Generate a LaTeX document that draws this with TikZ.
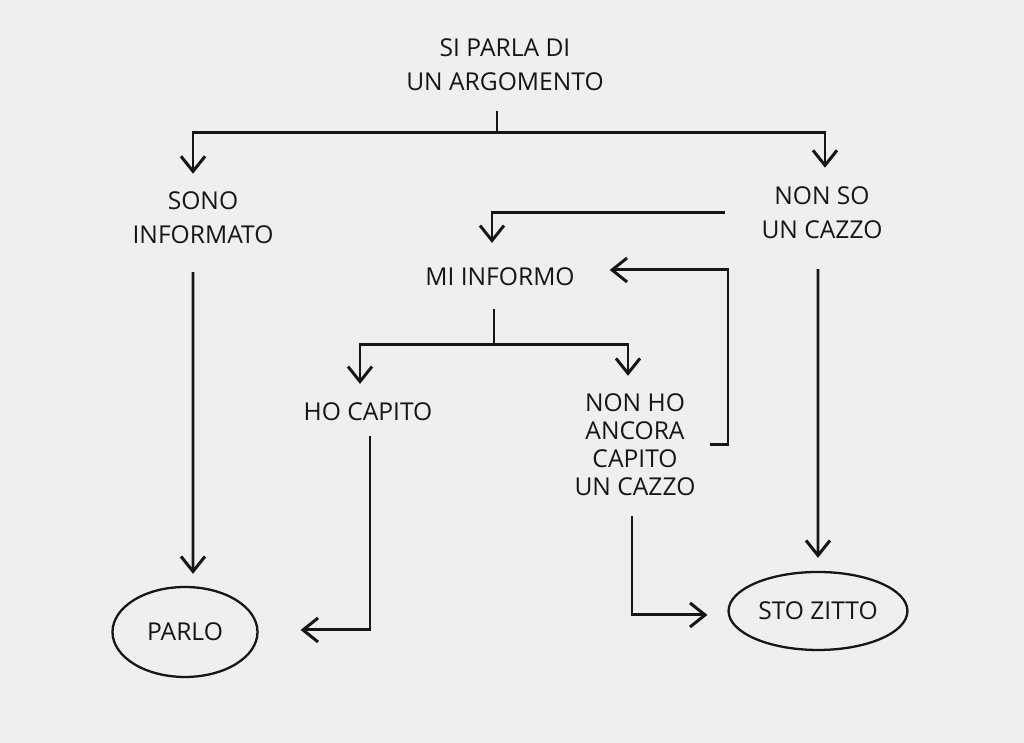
\documentclass[tikz,border=0pt]{standalone}
\usepackage{fontspec}
\setmainfont{Open Sans}
\usetikzlibrary{arrows.meta,positioning,shapes.geometric}
\definecolor{paper}{RGB}{239,239,239}
\definecolor{ink}{RGB}{22,22,22}

\begin{document}
\begin{tikzpicture}[color=ink,line width=0.85pt,
  txt/.style={align=center,inner sep=1pt,font=\fontsize{7}{9.8}\selectfont},
  arr/.style={-{Straight Barb[length=1.5mm,width=2.4mm]}},
  oval/.style={ellipse,draw,line width=0.65pt,inner sep=0pt}]
\fill[paper] (0,0) rectangle (10.24,7.43);
\useasboundingbox (0,0) rectangle (10.24,7.43);

% the questions and answers
\node[txt] (root) at (5.05,6.78) {SI PARLA DI\\UN ARGOMENTO};
\node[txt] (sono) at (2.03,5.25) {SONO\\INFORMATO};
\node[txt] (nonso) at (8.22,5.30) {NON SO\\UN CAZZO};
\node[txt] (mi) at (5.00,4.66) {MI INFORMO};
\node[txt] (ho) at (3.68,3.31) {HO CAPITO};
\node[txt,font=\fontsize{7}{8}\selectfont] (nonho) at (6.35,2.98) {NON HO\\ANCORA\\CAPITO\\UN CAZZO};
\node[oval,txt,minimum width=1.45cm,minimum height=0.9cm] (parlo) at (1.85,1.11) {PARLO};
\node[oval,txt,minimum width=1.77cm,minimum height=0.78cm] (sto) at (8.18,1.32) {STO ZITTO};

% branching
\coordinate (split) at (4.97,6.10);
\coordinate (split2) at (4.94,3.98);
\coordinate (loop) at (7.28,2.98);

\draw ([yshift=-1.5mm]root.south -| split) -- (split);
\draw[arr] (split) -| ([xshift=-1mm,yshift=1.3mm]sono.north);
\draw[arr] (split) -| ([xshift=0.3mm,yshift=1.4mm]nonso.north);
\draw[arr] ([xshift=-3.2mm]nonso.west) -| ([xshift=-0.8mm,yshift=2mm]mi.north);
\draw[arr] ([xshift=1mm]nonho.east) -- (loop) |- ([xshift=3mm,yshift=0.7mm]mi.east);

\draw ([yshift=-1.8mm]mi.south -| split2) -- (split2);
\draw[arr] (split2) -| ([xshift=-0.8mm,yshift=1.4mm]ho.north);
\draw[arr] (split2) -| ([xshift=-0.7mm,yshift=1.3mm]nonho.north);

% to the ovals
\draw[arr] ([xshift=-1mm,yshift=-2.3mm]sono.south) -- ([xshift=0.8mm,yshift=1.2mm]parlo.north);
\draw[arr] ([xshift=0.2mm,yshift=-1mm]ho.south) |- ([xshift=4.2mm,yshift=0.2mm]parlo.east);
\draw[arr] ([xshift=-0.3mm,yshift=-1.5mm]nonho.south) |- ([xshift=-2mm,yshift=-0.4mm]sto.west);
\draw[arr] ([xshift=-0.4mm,yshift=-2.5mm]nonso.south) -- ([yshift=1.3mm]sto.north);
\end{tikzpicture}
\end{document}
